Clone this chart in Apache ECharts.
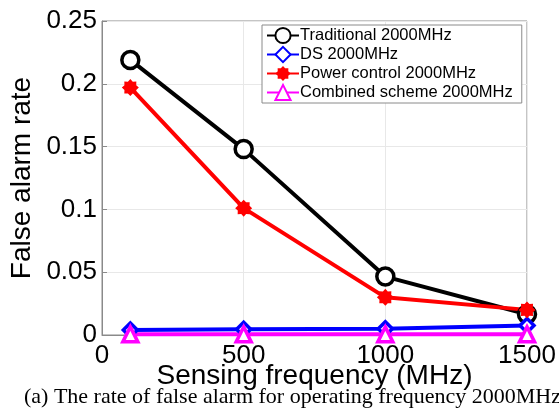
<!DOCTYPE html>
<html>
<head>
<meta charset="utf-8">
<script src="https://cdn.jsdelivr.net/npm/echarts@6/dist/echarts.min.js"></script>
<style>
  html, body { margin: 0; padding: 0; background: #fff; }
  #chart { width: 559px; height: 413px; }
</style>
</head>
<body>
<div id="chart"></div>
<script>
// data
const frequencies = [100, 500, 1000, 1500];
const traditional = [0.219, 0.148, 0.0465, 0.0165];
const ds = [0.004, 0.0045, 0.005, 0.0075];
const powerControl = [0.197, 0.101, 0.030, 0.020];
const combined = [0.0005, 0.0005, 0.0005, 0.0005];

const seriesNames = ['Traditional 2000MHz', 'DS 2000MHz', 'Power control 2000MHz', 'Combined scheme 2000MHz'];

// chunky asterisk like matlab's '*' with a thick line
const starPath = (() => {
  const pts = [];
  for (let k = 0; k < 16; k++) {
    const a = (k * Math.PI) / 8;
    const r = k % 2 === 0 ? 10 : 7.5;
    pts.push(`${(10 + r * Math.sin(a)).toFixed(2)} ${(10 - r * Math.cos(a)).toFixed(2)}`);
  }
  return 'path://M' + pts.join(' L') + ' Z';
})();

const pairs = (ys) => frequencies.map((x, i) => [x, ys[i]]);

const chart = echarts.init(document.getElementById('chart'));
const FONT = 'Liberation Sans';

const makeSeries = (name, ys, color, symbol, size, filled) => ({
  name,
  type: 'line',
  data: pairs(ys),
  symbol,
  symbolSize: size,
  showAllSymbol: true,
  clip: false,
  lineStyle: { color, width: 4 },
  itemStyle: { color: filled ? color : '#fff', borderColor: color, borderWidth: filled ? 0 : 3.5 },
  emphasis: { disabled: true },
  animation: false
});

chart.setOption({
  animation: false,
  grid: {
    left: 99, right: 32, top: 21, bottom: 78,
    show: true, borderColor: '#8a8a8a', borderWidth: 1
  },
  legend: {
    left: 262, top: 25,
    orient: 'vertical',
    data: seriesNames,
    itemWidth: 32, itemHeight: 19, itemGap: 0,
    padding: [1, 9, 1, 4],
    backgroundColor: '#fff',
    borderColor: '#8a8a8a', borderWidth: 1, borderRadius: 0,
    textStyle: { fontFamily: FONT, fontSize: 16.5, color: '#000', lineHeight: 19, padding: [0, 0, 0, -4] }
  },
  xAxis: {
    type: 'value',
    min: 0, max: 1500, interval: 500,
    name: 'Sensing frequency (MHz)',
    nameLocation: 'middle', nameGap: 27, nameMoveOverlap: false,
    nameTextStyle: { fontFamily: FONT, fontSize: 28, color: '#000' },
    axisLine: { show: true, lineStyle: { color: '#8a8a8a', width: 1 } },
    axisTick: { show: true, inside: true, length: 5, lineStyle: { color: '#8a8a8a' } },
    axisLabel: { fontFamily: FONT, fontSize: 26, color: '#000', margin: 8, formatter: (v) => String(v) },
    splitLine: { show: true, lineStyle: { color: '#e8e8e8', width: 1 } }
  },
  yAxis: {
    type: 'value',
    min: 0, max: 0.25, interval: 0.05,
    name: 'False alarm rate',
    nameLocation: 'middle', nameGap: 66, nameRotate: 90, nameMoveOverlap: false,
    nameTextStyle: { fontFamily: FONT, fontSize: 28, color: '#000' },
    axisLine: { show: true, lineStyle: { color: '#8a8a8a', width: 1 } },
    axisTick: { show: true, inside: true, length: 5, lineStyle: { color: '#8a8a8a' } },
    axisLabel: { fontFamily: FONT, fontSize: 26, color: '#000', margin: 5 },
    splitLine: { show: true, lineStyle: { color: '#e8e8e8', width: 1 } }
  },
  series: [
    makeSeries(seriesNames[0], traditional, '#000000', 'circle', 17, false),
    makeSeries(seriesNames[1], ds, '#0000ff', 'diamond', 14, false),
    makeSeries(seriesNames[2], powerControl, '#ff0000', starPath, 17, true),
    makeSeries(seriesNames[3], combined, '#ff00ff', 'triangle', 15, false)
  ],
  graphic: [{
    type: 'text',
    left: 24, top: 386,
    style: {
      text: '(a) The rate of false alarm for operating frequency 2000MHz',
      font: '22px "Liberation Serif"',
      fill: '#000'
    }
  }]
});
</script>
</body>
</html>
